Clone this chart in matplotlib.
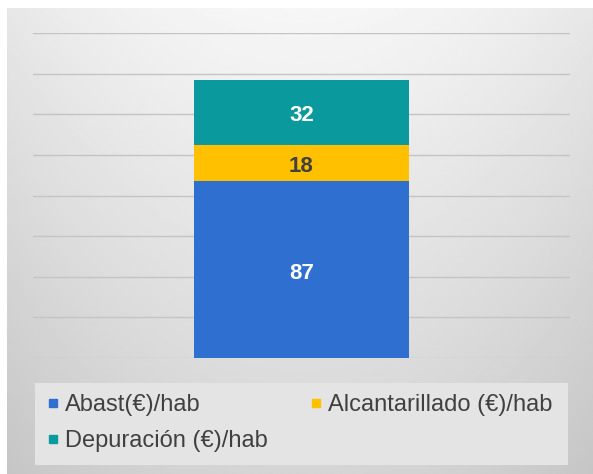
import matplotlib
matplotlib.use("Agg")
import matplotlib.pyplot as plt
from matplotlib.lines import Line2D
from matplotlib.patches import Rectangle
import numpy as np

plt.rcParams["font.family"] = ["Liberation Sans", "DejaVu Sans"]

# data
category = [""]
series = ["Abast(€)/hab", "Alcantarillado (€)/hab", "Depuración (€)/hab"]
values = [87, 18, 32]
colors = ["#2f6fcf", "#ffc000", "#0a999d"]
label_colors = ["white", "#404040", "white"]

W, H = 593, 474
fig = plt.figure(figsize=(W / 100, H / 100), dpi=100)
fig.patch.set_facecolor("white")

# gray gradient panel behind everything
bg = fig.add_axes([7 / W, 0, 1 - 7 / W, 1 - 8 / H])
yy, xx = np.mgrid[0:1:200j, -1:1:300j]
g = 0.965 - 0.13 * yy - 0.06 * xx ** 2
bg.imshow(g, cmap="gray", vmin=0, vmax=1, aspect="auto", extent=[0, 1, 0, 1])
bg.set_axis_off()

# legend background box
fig.patches.append(Rectangle((35 / W, (H - 465) / H), 533 / W, 82 / H,
                             transform=fig.transFigure, facecolor="#e4e4e4",
                             edgecolor="none", zorder=1))

ax = fig.add_axes([33 / W, (H - 358) / H, 537 / W, 325 / H])
ax.patch.set_alpha(0)
bottom = 0
for v, c, lc in zip(values, colors, label_colors):
    ax.bar(category, [v], bottom=bottom, width=0.4, color=c, zorder=3)
    ax.annotate(f"{v}", (0, bottom + v / 2), xytext=(0, -2.5),
                textcoords="offset points", ha="center", va="center",
                color=lc, fontsize=16, fontweight="bold", zorder=4)
    bottom += v
ax.set_xlim(-0.5, 0.5)
ax.set_ylim(0, 160)
ax.set_yticks(np.arange(0, 161, 20))
ax.yaxis.grid(True, color="#c4c4c4", lw=1)
ax.set_axisbelow(True)
ax.tick_params(left=False, bottom=False, labelleft=False, labelbottom=False)
for s in ax.spines.values():
    s.set_visible(False)

handles = [Line2D([], [], marker="s", ls="none", markersize=6,
                  color=c) for c in colors]
order = [0, 2, 1]
leg = fig.legend([handles[i] for i in order], [series[i] for i in order],
                 ncol=2, loc="upper left",
                 bbox_to_anchor=(46 / W, (H - 394) / H),
                 frameon=False, fontsize=17, labelcolor="#404040",
                 handlelength=0.6, handletextpad=0.2, columnspacing=1.75,
                 labelspacing=0.6, borderpad=0, borderaxespad=0)
leg.set_zorder(5)

fig.savefig("out.png", dpi=100)
